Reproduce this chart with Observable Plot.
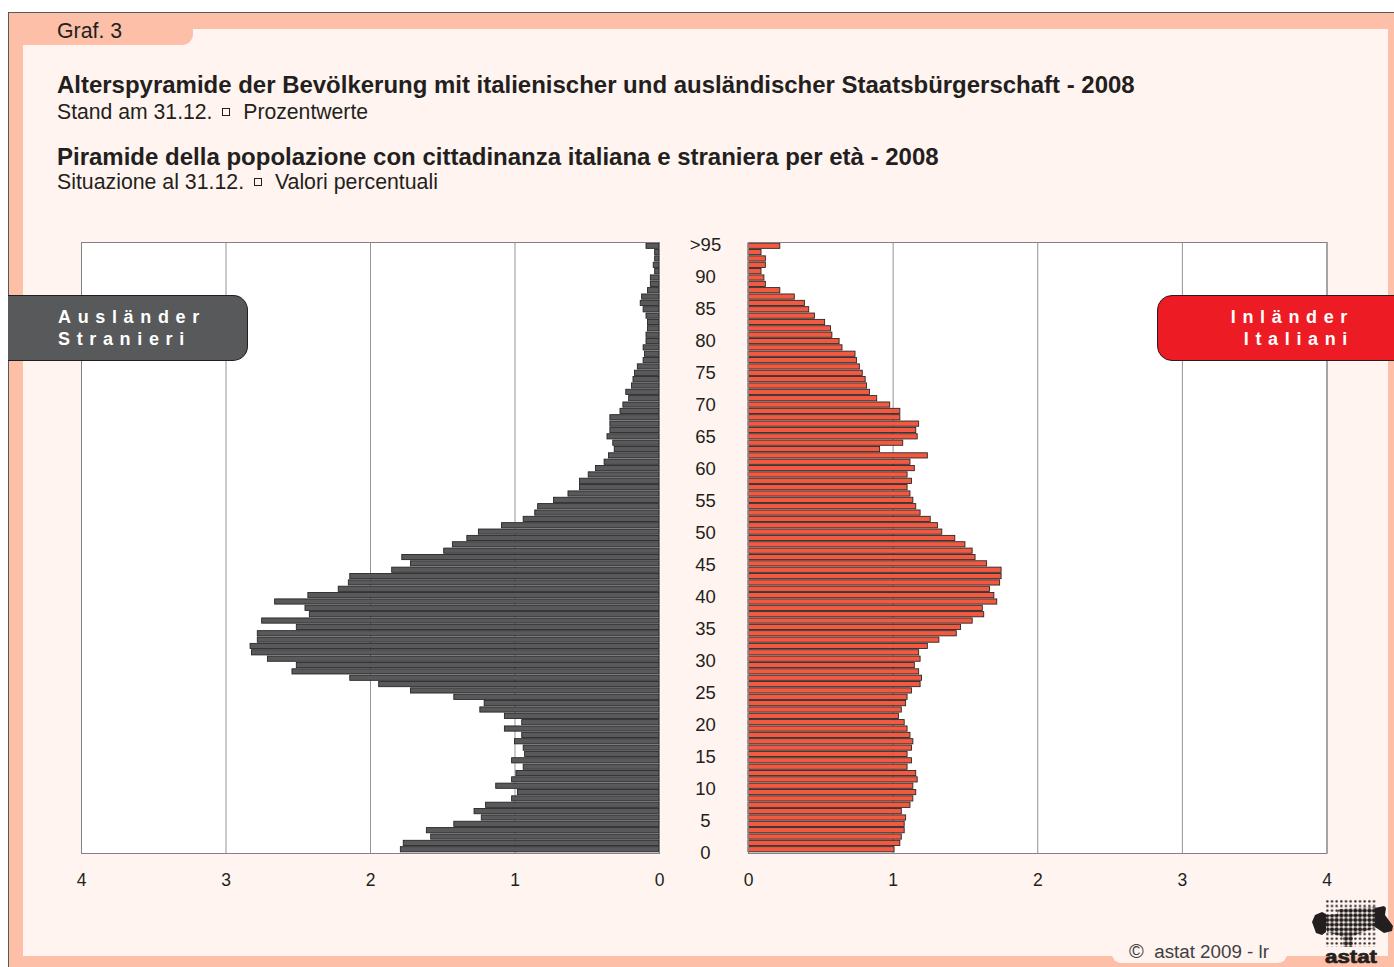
<!DOCTYPE html>
<html><head><meta charset="utf-8">
<script src="https://cdn.jsdelivr.net/npm/d3@7"></script>
<script src="https://cdn.jsdelivr.net/npm/@observablehq/plot@0.6"></script>
<style>
html,body{margin:0;padding:0;background:#fff;width:1394px;height:967px;overflow:hidden}
#page{position:relative;width:1394px;height:967px;overflow:hidden;font-family:"Liberation Sans",Arial,sans-serif;color:#231f20}
.abs{position:absolute}
.t{position:absolute;white-space:nowrap;line-height:1}
.sq{display:inline-block;width:6px;height:6px;border:1px solid #231f20;margin:0 7px 3px 4px;vertical-align:middle}
.rib{position:absolute;top:295px;height:64px;border:1px solid #231f20;box-sizing:content-box}
.ribt{position:absolute;white-space:nowrap;color:#fff;font-weight:bold;font-size:18px;letter-spacing:6.65px;line-height:22px}
svg.plot{position:absolute;top:0;overflow:visible}
</style></head><body>
<div id="page">
  <div class="abs" style="left:8px;top:12px;right:0;bottom:0;background:#fdbfa8;border-left:1px solid #58595b;border-top:1px solid #58595b;box-sizing:border-box"></div>
  <div class="abs" style="left:23px;top:29px;width:1365px;height:927px;background:#fff4ef"></div>
  <div class="abs" style="left:9px;top:13px;width:184px;height:32px;background:#fdbfa8;border-bottom-right-radius:11px"></div>
  <div class="abs" style="left:1112px;top:950px;width:175px;height:13px;background:#fff4ef;border-radius:0 0 9px 9px"></div>
  <div class="t" style="left:57px;top:21px;font-size:21.3px">Graf. 3</div>
  <div class="t" style="left:57px;top:73px;font-size:23.97px;font-weight:bold">Alterspyramide der Bevölkerung mit italienischer und ausländischer Staatsbürgerschaft - 2008</div>
  <div class="t" style="left:57px;top:101px;font-size:21.2px">Stand am 31.12. <span class="sq"></span> Prozentwerte</div>
  <div class="t" style="left:57px;top:145px;font-size:24px;font-weight:bold">Piramide della popolazione con cittadinanza italiana e straniera per età - 2008</div>
  <div class="t" style="left:57px;top:172px;font-size:21.3px">Situazione al 31.12. <span class="sq"></span> Valori percentuali</div>
  <div id="charts"></div>
  <div class="rib" style="left:8px;width:239px;background:#58595b;border-left:none;border-radius:0 15px 15px 0"></div>
  <div class="ribt" style="left:58px;top:306px">Ausländer<br>Stranieri</div>
  <div class="rib" style="left:1157px;width:240px;background:#ed1c24;border-radius:15px 0 0 15px"></div>
  <div class="ribt" style="right:40px;top:306px;text-align:right">Inländer<br>Italiani</div>
  <div class="t" style="left:1129px;top:941px;font-size:18.8px;color:#414042"><span style="font-size:20px">©</span>&nbsp; astat 2009 - lr</div>
  <svg class="abs" style="left:0;top:0" width="1394" height="967">
    <defs>
      <pattern id="ds" x="1325" y="899" width="4.67" height="4.67" patternUnits="userSpaceOnUse"><circle cx="2.33" cy="2.33" r="1.2" fill="#231f20"/></pattern>
      <pattern id="db" x="1325" y="899" width="4.67" height="4.67" patternUnits="userSpaceOnUse"><circle cx="2.33" cy="2.33" r="2.15" fill="#231f20"/></pattern>
    </defs>
    <rect x="1325" y="899" width="52" height="48" fill="url(#ds)"/>
    <path d="M1325 915 L1337 914 L1338 909 L1377 907 L1377 927 L1353 936 L1353 947 L1343 947 L1343 937 L1327 932 Z" fill="url(#db)"/>
    <path d="M1312 922 L1315 915 L1322 912 L1326 914 L1326 932 L1322 935 L1316 933 Z M1375 908 L1384 906 L1386 908 L1385 915 L1393 926 L1392 931 L1384 933 L1375 927 Z" fill="#231f20"/>
    <text x="1325" y="963" textLength="52" lengthAdjust="spacingAndGlyphs" font-family="Liberation Sans" font-weight="bold" font-size="19" stroke="#231f20" stroke-width="0.7" fill="#231f20">astat</text>
  </svg>
</div>
<script>
const ages = [">95",94,93,92,91,90,89,88,87,86,85,84,83,82,81,80,79,78,77,76,75,74,73,72,71,70,69,68,67,66,65,64,63,62,61,60,59,58,57,56,55,54,53,52,51,50,49,48,47,46,45,44,43,42,41,40,39,38,37,36,35,34,33,32,31,30,29,28,27,26,25,24,23,22,21,20,19,18,17,16,15,14,13,12,11,10,9,8,7,6,5,4,3,2,1,0].map(String);
const ageTicks = [">95","90","85","80","75","70","65","60","55","50","45","40","35","30","25","20","15","10","5","0"];
const stranieri = [.09,.03,.03,.04,.03,.06,.06,.08,.12,.13,.11,.09,.08,.08,.09,.09,.11,.10,.11,.15,.17,.18,.19,.23,.21,.25,.27,.34,.34,.34,.36,.32,.31,.35,.38,.44,.49,.55,.55,.63,.73,.84,.86,.94,1.09,1.25,1.33,1.43,1.49,1.78,1.72,1.85,2.14,2.15,2.22,2.43,2.66,2.45,2.42,2.75,2.51,2.78,2.78,2.83,2.82,2.71,2.51,2.54,2.14,1.94,1.72,1.42,1.21,1.24,1.07,.95,1.07,.95,1.00,.94,.93,1.02,.94,.99,1.02,1.13,.98,1.02,1.20,1.28,1.23,1.42,1.61,1.58,1.77,1.79];
const italiani = [.22,.09,.12,.12,.09,.11,.12,.22,.32,.39,.42,.46,.53,.57,.58,.63,.65,.74,.75,.77,.79,.81,.82,.84,.89,.98,1.05,1.05,1.18,1.16,1.17,1.07,.91,1.24,1.12,1.15,1.10,1.13,1.10,1.12,1.14,1.16,1.19,1.26,1.31,1.34,1.43,1.50,1.55,1.57,1.65,1.75,1.75,1.74,1.67,1.70,1.72,1.62,1.63,1.55,1.47,1.44,1.32,1.24,1.18,1.19,1.15,1.18,1.20,1.19,1.13,1.10,1.09,1.06,1.04,1.08,1.10,1.12,1.14,1.13,1.10,1.13,1.10,1.16,1.17,1.14,1.16,1.14,1.12,1.06,1.09,1.08,1.08,1.06,1.05,1.01];
const xTicks = [0,1,2,3,4];
const fontFamily = "Liberation Sans, Arial, sans-serif";
const charts = document.getElementById("charts");

function place(p, left) {
  p.style.position="absolute"; p.style.left=left+"px"; p.style.top="0";
  charts.appendChild(p);
}
function pyramid(values, fill, domain, left, width, ml, mr) {
  place(Plot.plot({
    width, height:900, marginTop:242, marginBottom:47, marginLeft:ml, marginRight:mr,
    style:{background:"transparent", fontFamily, color:"#231f20", overflow:"visible"},
    x:{domain, axis:null},
    y:{type:"band", domain:ages, padding:0.18, axis:null},
    marks:[
      Plot.frame({fill:"white", stroke:"none"}),
      Plot.gridX(xTicks,{stroke:"#939598", strokeOpacity:1, strokeWidth:1}),
      Plot.barX(ages,{x:values, y:ages, fill, stroke:"#231f20", strokeWidth:0.85}),
      Plot.frame({stroke:"#808285", strokeWidth:1}),
      Plot.axisX({ticks:xTicks, tickFormat:"d", anchor:"bottom", tickSize:0, tickPadding:20, label:null, fontSize:17.5})
    ]
  }), left);
}
pyramid(stranieri,"#58595b",[4,0],0,720,81,61);
pyramid(italiani,"#f15a40",[0,4],700,700,48,73.5);
// central age labels: their own scale, spaced as printed in the reference
place(Plot.plot({
  width:100, height:900, marginTop:241.1, marginBottom:44.5, marginLeft:50, marginRight:50,
  style:{background:"transparent", fontFamily, color:"#231f20", overflow:"visible"},
  x:{domain:[0,1], axis:null},
  y:{type:"band", domain:ages, padding:0, axis:null},
  marks:[Plot.axisY({ticks:ageTicks, anchor:"left", tickSize:0, tickPadding:0, textAnchor:"middle", label:null, fontSize:18.5})]
}), 655);
</script>
</body></html>
